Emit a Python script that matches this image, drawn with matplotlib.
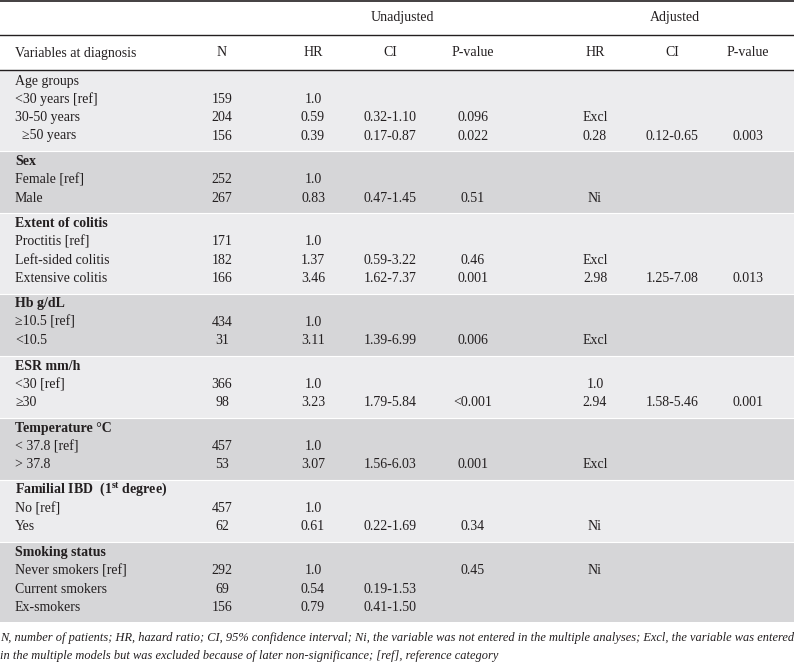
import matplotlib
matplotlib.use("Agg")
import matplotlib.pyplot as plt

plt.rcParams['font.family'] = ['Liberation Serif', 'DejaVu Serif']
plt.rcParams['mathtext.fontset'] = 'custom'
plt.rcParams['mathtext.rm'] = 'Liberation Serif'
plt.rcParams['mathtext.bf'] = 'Liberation Serif:bold'

# table content
group_titles = ["Age groups", "Sex", "Extent of colitis", "Hb g/dL", "ESR mm/h",
                "Temperature \u00b0C", r"Familial IBD  (1$^{\mathbf{st}}$ degree)",
                "Smoking status"]
group_bold = [False, True, True, True, True, True, True, True]
row_labels = [["<30 years [ref]", "30-50 years", "  \u226550 years"],
              ["Female [ref]", "Male"],
              ["Proctitis [ref]", "Left-sided colitis", "Extensive colitis"],
              ["\u226510.5 [ref]", "<10.5"],
              ["<30 [ref]", "\u226530"],
              ["< 37.8 [ref]", "> 37.8"],
              ["No [ref]", "Yes"],
              ["Never smokers [ref]", "Current smokers", "Ex-smokers"]]
n_vals = [["159", "204", "156"], ["252", "267"], ["171", "182", "166"], ["434", "31"],
          ["366", "98"], ["457", "53"], ["457", "62"], ["292", "69", "156"]]
hr_unadj = [["1.0", "0.59", "0.39"], ["1.0", "0.83"], ["1.0", "1.37", "3.46"], ["1.0", "3.11"],
            ["1.0", "3.23"], ["1.0", "3.07"], ["1.0", "0.61"], ["1.0", "0.54", "0.79"]]
ci_unadj = [["", "0.32-1.10", "0.17-0.87"], ["", "0.47-1.45"], ["", "0.59-3.22", "1.62-7.37"],
            ["", "1.39-6.99"], ["", "1.79-5.84"], ["", "1.56-6.03"], ["", "0.22-1.69"],
            ["", "0.19-1.53", "0.41-1.50"]]
p_unadj = [["", "0.096", "0.022"], ["", "0.51"], ["", "0.46", "0.001"], ["", "0.006"],
           ["", "<0.001"], ["", "0.001"], ["", "0.34"], ["0.45", "", ""]]
hr_adj = [["", "Excl", "0.28"], ["", "Ni"], ["", "Excl", "2.98"], ["", "Excl"],
          ["1.0", "2.94"], ["", "Excl"], ["", "Ni"], ["Ni", "", ""]]
ci_adj = [["", "", "0.12-0.65"], ["", ""], ["", "", "1.25-7.08"], ["", ""],
          ["", "1.58-5.46"], ["", ""], ["", ""], ["", "", ""]]
p_adj = [["", "", "0.003"], ["", ""], ["", "", "0.013"], ["", ""],
         ["", "0.001"], ["", ""], ["", ""], ["", "", ""]]

col_heads = ["N", "HR", "CI", "P-value", "HR", "CI", "P-value"]
footnote = ["N, number of patients; HR, hazard ratio; CI, 95% confidence interval; Ni, the variable was not entered in the multiple analyses; Excl, the variable was entered",
            "in the multiple models but was excluded because of later non-significance; [ref], reference category"]

col_x = [222, 313, 390, 473, 595, 672, 748]
ink = '#231f20'
fs = 10
band_cols = ['#ececee', '#d6d6d8']

fig = plt.figure(figsize=(7.94, 6.64), dpi=100)
ax = fig.add_axes([0, 0, 1, 1])
ax.set_xlim(0, 794)
ax.set_ylim(664, 0)
ax.axis('off')

# header
ax.axhline(1.2, color=ink, lw=1.2)
ax.axhline(35, color=ink, lw=1.0)
ax.axhline(70, color=ink, lw=1.0)
ax.text(402, 18, "Unadjusted", ha='center', va='center', fontsize=fs, color=ink)
ax.text(675, 18, "Adjusted", ha='center', va='center', fontsize=fs, color=ink)
ax.text(15, 53, "Variables at diagnosis", ha='left', va='center', fontsize=fs, color=ink)
for x, h in zip(col_x, col_heads):
    ax.text(x, 53, h, ha='center', va='center', fontsize=fs, color=ink)

# body
top = 70.6
pitch = 18.3
for g, title in enumerate(group_titles):
    nlines = len(row_labels[g]) + 1
    height = 25.5 + pitch * (nlines - 1)
    ax.axhspan(top, top + height, color=band_cols[g % 2], lw=0)
    if g > 0:
        ax.axhline(top, color='white', lw=0.8)
    y = top + 10.5
    ax.text(15, y, title, ha='left', va='center', fontsize=fs, color=ink,
            fontweight='bold' if group_bold[g] else 'normal')
    for k, lab in enumerate(row_labels[g]):
        y = top + 10.5 + pitch * (k + 1)
        ax.text(15, y, lab, ha='left', va='center', fontsize=fs, color=ink)
        vals = [n_vals[g][k], hr_unadj[g][k], ci_unadj[g][k], p_unadj[g][k],
                hr_adj[g][k], ci_adj[g][k], p_adj[g][k]]
        for x, v in zip(col_x, vals):
            if v:
                ax.text(x, y, v, ha='center', va='center', fontsize=fs, color=ink)
    top += height

# footnote
for i, line in enumerate(footnote):
    ax.text(0, 638 + 17.5 * i, line, ha='left', va='center', fontsize=8.9,
            style='italic', color=ink)

fig.savefig("out.png", dpi=100)
